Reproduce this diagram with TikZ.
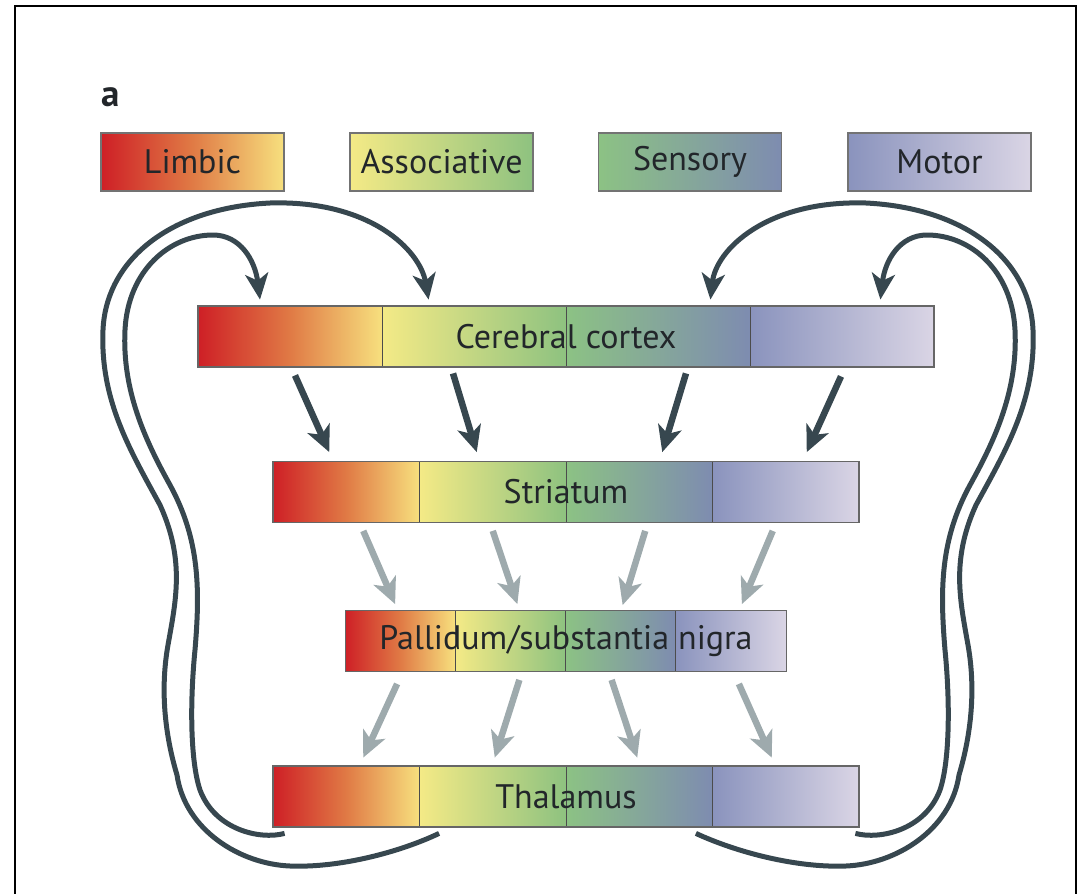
\documentclass[tikz,border=0pt]{standalone}
\usepackage{fontspec}
\setmainfont{PT Sans}
\usetikzlibrary{arrows.meta, calc}

\definecolor{LimA}{HTML}{CE1F26}
\definecolor{LimB}{HTML}{E07A45}
\definecolor{LimC}{HTML}{F7E07E}
\definecolor{AsoA}{HTML}{F4EA86}
\definecolor{AsoB}{HTML}{8EC280}
\definecolor{SenA}{HTML}{8CC284}
\definecolor{SenB}{HTML}{7E8CB0}
\definecolor{MotA}{HTML}{8A93BD}
\definecolor{MotB}{HTML}{DAD5E5}
\definecolor{darkslate}{HTML}{37474F}
\definecolor{lightslate}{HTML}{9EAAAD}
\definecolor{txt}{HTML}{22262A}

\begin{document}
\begin{tikzpicture}[x=1pt,y=1pt,yscale=-1,xscale=1,
  seg/.style={inner sep=0pt, minimum height=61pt, draw=black!70, line width=0.8pt},
  bar/.style={inner sep=0pt, minimum height=61pt, draw=black!60, line width=1.8pt, text=txt, font=\fontsize{34}{38}\selectfont},
  key/.style={inner sep=0pt, minimum width=183pt, minimum height=58pt, draw=black!55, line width=1.6pt, text=txt, font=\fontsize{34}{38}\selectfont},
  limb/.style={left color=LimA, right color=LimC, middle color=LimB},
  asso/.style={left color=AsoA, right color=AsoB},
  sens/.style={left color=SenA, right color=SenB},
  moto/.style={left color=MotA, right color=MotB},
  darr/.style={draw=darkslate, line width=6.5pt, -{Stealth[length=26pt, width=24pt, inset=7pt]}},
  garr/.style={draw=lightslate, line width=6.5pt, -{Stealth[length=26pt, width=24pt, inset=7pt]}},
  loopw/.style={draw=darkslate, line width=5pt, -{Stealth[length=26pt, width=23pt, inset=7pt]}}
]
\useasboundingbox (0,0) rectangle (1080,894);

%Shape: Frame
\draw [line width=2pt] (15,894) -- (15,6) -- (1076,6) -- (1076,894) ;

% Text Node
\draw (101,87) node (lbl) [anchor=north west, inner sep=0pt, text=txt, font=\bfseries\fontsize{37}{40}\selectfont] {a};

% Key boxes
\draw (192.5,162) node (klim) [key, limb] {Limbic};
\draw (441.5,162) node (kaso) [key, asso] {Associative};
\draw (690,162) node (ksen) [key, sens] {Sensory};
\draw (939.5,162) node (kmot) [key, moto] {Motor};

%Shape: Cerebral cortex segments
\draw (290,336.5) node (c1) [seg, limb, minimum width=184pt] {};
\draw (474,336.5) node (c2) [seg, asso, minimum width=184pt] {};
\draw (658,336.5) node (c3) [seg, sens, minimum width=184pt] {};
\draw (842,336.5) node (c4) [seg, moto, minimum width=184pt] {};
\draw (566,336.5) node (ctx) [bar, minimum width=736pt] {Cerebral cortex};

%Shape: Striatum segments
\draw (346.25,492) node (s1) [seg, limb, minimum width=146.5pt] {};
\draw (492.75,492) node (s2) [seg, asso, minimum width=146.5pt] {};
\draw (639.25,492) node (s3) [seg, sens, minimum width=146.5pt] {};
\draw (785.75,492) node (s4) [seg, moto, minimum width=146.5pt] {};
\draw (566,492) node (str) [bar, minimum width=586pt] {Striatum};

%Shape: Pallidum segments
\draw (400.125,641) node (p1) [seg, limb, minimum width=110.25pt] {};
\draw (510.375,641) node (p2) [seg, asso, minimum width=110.25pt] {};
\draw (620.625,641) node (p3) [seg, sens, minimum width=110.25pt] {};
\draw (730.875,641) node (p4) [seg, moto, minimum width=110.25pt] {};
\draw (566,641) node (pal) [bar, minimum width=441pt] {Pallidum/substantia nigra};

%Shape: Thalamus segments
\draw (346.25,796.5) node (t1) [seg, limb, minimum width=146.5pt] {};
\draw (492.75,796.5) node (t2) [seg, asso, minimum width=146.5pt] {};
\draw (639.25,796.5) node (t3) [seg, sens, minimum width=146.5pt] {};
\draw (785.75,796.5) node (t4) [seg, moto, minimum width=146.5pt] {};
\draw (566,796.5) node (tha) [bar, minimum width=586pt] {Thalamus};

%Straight Lines: cortex to striatum
\draw [darr] ($(c1.south)+(5,8)$) -- ($(s1.north)+(-17,-9)$) ;
\draw [darr] ($(c2.south)+(-21,6)$) -- ($(s2.north)+(-16,-9)$) ;
\draw [darr] ($(c3.south)+(28,6)$) -- ($(s3.north)+(23,-9)$) ;
\draw [darr] ($(c4.south)+(-1,9)$) -- ($(s4.north)+(21,-9)$) ;

%Straight Lines: striatum to pallidum
\draw [garr] ($(s1.south)+(17,8)$) -- ($(p1.north)+(-5,-6)$) ;
\draw [garr] ($(s2.south)+(0,8)$) -- ($(p2.north)+(7,-6)$) ;
\draw [garr] ($(s3.south)+(6,8)$) -- ($(p3.north)+(2,-5)$) ;
\draw [garr] ($(s4.south)+(-13,8)$) -- ($(p4.north)+(11,-6)$) ;

%Straight Lines: pallidum to thalamus
\draw [garr] ($(p1.south)+(-3,12)$) -- ($(t1.north)+(17,-8)$) ;
\draw [garr] ($(p2.south)+(9,8)$) -- ($(t2.north)+(2,-8)$) ;
\draw [garr] ($(p3.south)+(-9,8)$) -- ($(t3.north)+(-2,-8)$) ;
\draw [garr] ($(p4.south)+(8,12)$) -- ($(t4.north)+(-14,-8)$) ;

%Curve: outer loop, left
\draw [loopw] ($(t2.south west)+(20,6)$) .. controls (400,852) and (340,868) .. (290,866) .. controls (240,864) and (185,830) .. (177,775) .. controls (165,735) and (160,690) .. (168,645) .. controls (176,600) and (185,560) .. (160,505) .. controls (130,450) and (100,400) .. (103,330) .. controls (106,260) and (170,208) .. (270,203) .. controls (370,200) and (420,250) .. ($(c2.north west)+(47,-6)$) ;
%Curve: inner loop, left
\draw [loopw] ($(t1.south west)+(12,6)$) .. controls (260,840) and (215,830) .. (200,790) .. controls (190,760) and (190,700) .. (195,650) .. controls (200,590) and (200,540) .. (170,485) .. controls (145,440) and (122,390) .. (125,330) .. controls (128,270) and (170,235) .. (213,235) .. controls (240,235) and (255,260) .. ($(c1.north)+(-30,-6)$) ;
%Curve: outer loop, right
\draw [loopw] ($(t3.south east)+(-17,6)$) .. controls (736,852) and (796,868) .. (846,866) .. controls (896,864) and (951,830) .. (959,775) .. controls (971,735) and (976,690) .. (968,645) .. controls (960,600) and (951,560) .. (976,505) .. controls (1006,450) and (1036,400) .. (1033,330) .. controls (1030,260) and (966,208) .. (866,203) .. controls (766,200) and (716,250) .. ($(c3.north east)+(-40,-6)$) ;
%Curve: inner loop, right
\draw [loopw] ($(t4.south east)+(-4,6)$) .. controls (880,840) and (925,830) .. (940,790) .. controls (950,760) and (950,700) .. (945,650) .. controls (940,590) and (940,540) .. (970,485) .. controls (995,440) and (1018,390) .. (1015,330) .. controls (1012,270) and (970,235) .. (927,235) .. controls (900,235) and (885,260) .. ($(c4.north east)+(-54,-6)$) ;

\end{tikzpicture}
\end{document}
